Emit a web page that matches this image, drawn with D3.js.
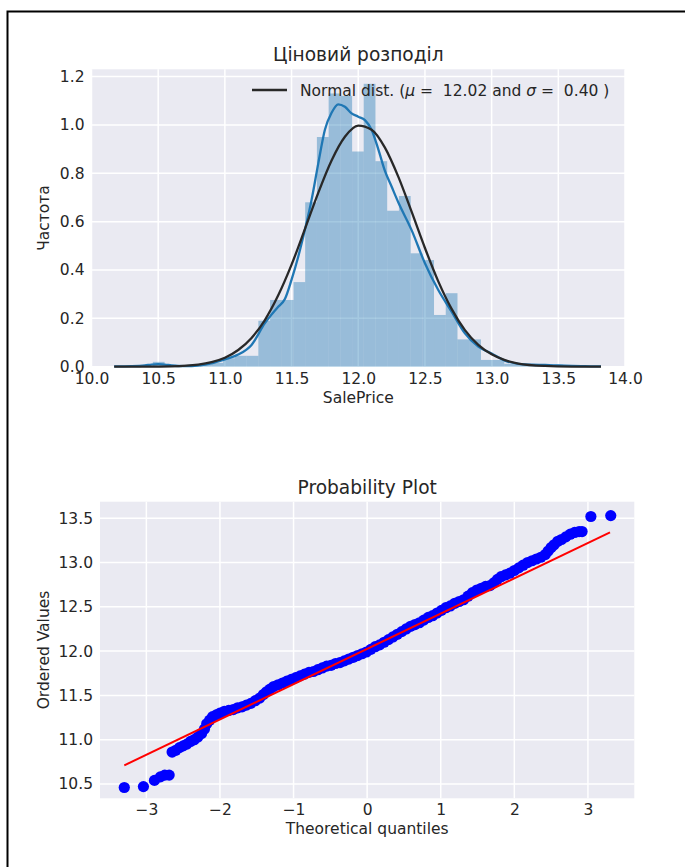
<!DOCTYPE html>
<html>
<head>
<meta charset="utf-8">
<script src="https://cdn.jsdelivr.net/npm/d3@7"></script>
<style>
  body { margin: 0; background: #fff; }
  svg text { font-family: "DejaVu Sans", sans-serif; fill: #262626; }
  .legend-text { white-space: pre; }
</style>
</head>
<body>
<svg id="chart" width="685" height="867"></svg>
<script>
// ---- data ----

// histogram of log(SalePrice): 35 bins, density per bin
const binEdges = [10.460, 10.548, 10.636, 10.724, 10.811, 10.899, 10.987, 11.075, 11.163, 11.251,
  11.339, 11.427, 11.515, 11.602, 11.690, 11.778, 11.866, 11.954, 12.041, 12.129,
  12.217, 12.305, 12.393, 12.481, 12.568, 12.656, 12.744, 12.832, 12.920, 13.007,
  13.095, 13.183, 13.271, 13.359, 13.447, 13.535];
const binDensity = [0.02, 0.008, 0, 0, 0.008, 0.016, 0.035, 0.045, 0.045, 0.19,
  0.276, 0.276, 0.35, 0.68, 0.95, 1.13, 1.12, 0.89, 1.17, 0.85,
  0.645, 0.706, 0.469, 0.441, 0.214, 0.304, 0.113, 0.113, 0.028, 0.028,
  0.012, 0.012, 0.008, 0.004, 0.008];

// kde curve (blue)
const kdeX = [10.17, 10.3, 10.4, 10.45, 10.5, 10.55, 10.6, 10.7, 10.8, 10.9, 11.0, 11.1, 11.2, 11.3,
  11.4, 11.45, 11.5, 11.55, 11.6, 11.65, 11.7, 11.75, 11.8, 11.85, 11.9, 11.95, 12.0,
  12.05, 12.1, 12.15, 12.2, 12.25, 12.3, 12.4, 12.5, 12.6, 12.7, 12.8, 12.9, 13.0,
  13.1, 13.2, 13.3, 13.4, 13.5, 13.6, 13.7, 13.82];
const kdeY = [0.001, 0.002, 0.005, 0.009, 0.011, 0.009, 0.005, 0.002, 0.005, 0.014, 0.03, 0.05, 0.09, 0.18,
  0.248, 0.28, 0.36, 0.455, 0.566, 0.69, 0.84, 0.98, 1.05, 1.085, 1.075, 1.048, 1.034,
  1.02, 0.98, 0.9, 0.81, 0.745, 0.68, 0.565, 0.428, 0.317, 0.228, 0.138, 0.083, 0.055,
  0.025, 0.012, 0.008, 0.007, 0.005, 0.003, 0.002, 0.001];

// fitted normal curve (black)
const fitX = [10.17, 10.4, 10.6, 10.8, 10.9, 11.0, 11.1, 11.2, 11.3, 11.4, 11.5, 11.6, 11.7, 11.8,
  11.9, 12.0, 12.1, 12.2, 12.3, 12.4, 12.5, 12.6, 12.7, 12.8, 12.9, 13.0, 13.1, 13.2,
  13.4, 13.6, 13.82];
const fitY = [0.0, 0.0003, 0.0017, 0.009, 0.019, 0.037, 0.069, 0.119, 0.193, 0.295, 0.422, 0.569, 0.719, 0.853,
  0.951, 0.997, 0.98, 0.906, 0.786, 0.641, 0.491, 0.353, 0.239, 0.151, 0.09, 0.051, 0.027, 0.013,
  0.003, 0.0004, 0.0];

const histXTicks = [10.0, 10.5, 11.0, 11.5, 12.0, 12.5, 13.0, 13.5, 14.0];
const histYTicks = [0.0, 0.2, 0.4, 0.6, 0.8, 1.0, 1.2];

// probability plot
const qqTheoretical = [-3.30, -3.04, -2.89, -2.81, -2.75, -2.69,
  -2.65, -2.60, -2.55, -2.50, -2.45, -2.40, -2.35, -2.30, -2.25, -2.21, -2.18, -2.14, -2.10, -2.05,
  -2.00, -1.94, -1.88, -1.82, -1.76, -1.70, -1.64, -1.58, -1.52, -1.46, -1.41, -1.37, -1.32, -1.27,
  -1.21, -1.15, -1.09, -1.03, -0.97, -0.91, -0.85, -0.79, -0.73, -0.67, -0.61, -0.55, -0.49, -0.43,
  -0.37, -0.31, -0.25, -0.19, -0.13, -0.07, -0.01, 0.05, 0.11, 0.17, 0.23, 0.29, 0.35, 0.41,
  0.47, 0.53, 0.59, 0.65, 0.71, 0.77, 0.83, 0.89, 0.95, 1.01, 1.07, 1.13, 1.19, 1.25,
  1.31, 1.37, 1.43, 1.49, 1.55, 1.61, 1.67, 1.72, 1.77, 1.82, 1.88, 1.94, 2.00, 2.06,
  2.12, 2.18, 2.24, 2.30, 2.36, 2.42, 2.46, 2.50, 2.54, 2.59, 2.64, 2.70, 2.76, 2.82,
  2.88, 2.92, 3.04, 3.31];
const qqOrdered = [10.46, 10.47, 10.54, 10.58, 10.60, 10.60,
  10.86, 10.88, 10.91, 10.93, 10.95, 10.98, 11.00, 11.03, 11.07, 11.12, 11.18, 11.22, 11.26, 11.28,
  11.30, 11.32, 11.33, 11.34, 11.36, 11.37, 11.39, 11.41, 11.44, 11.47, 11.51, 11.54, 11.57, 11.60,
  11.62, 11.64, 11.66, 11.68, 11.70, 11.72, 11.74, 11.76, 11.77, 11.79, 11.81, 11.83, 11.84, 11.86,
  11.87, 11.89, 11.91, 11.93, 11.95, 11.97, 11.99, 12.02, 12.05, 12.07, 12.10, 12.13, 12.16, 12.19,
  12.22, 12.25, 12.28, 12.30, 12.32, 12.35, 12.38, 12.40, 12.43, 12.46, 12.49, 12.51, 12.54, 12.56,
  12.58, 12.62, 12.66, 12.69, 12.71, 12.73, 12.74, 12.77, 12.81, 12.84, 12.86, 12.88, 12.91, 12.94,
  12.97, 13.00, 13.02, 13.04, 13.06, 13.09, 13.13, 13.17, 13.20, 13.24, 13.26, 13.29, 13.32, 13.34,
  13.35, 13.35, 13.52, 13.53];
// least squares line ends
const fitLineQ = [-3.30, 3.30];
const fitLineV = [10.71, 13.34];

const qqXTicks = [-3, -2, -1, 0, 1, 2, 3];
const qqYTicks = [10.5, 11.0, 11.5, 12.0, 12.5, 13.0, 13.5];

// ---- drawing ----
const svg = d3.select('#chart');
const bg = '#eaeaf2';

// frame around the picture
svg.append('path')
  .attr('d', 'M7.5,867 V11.5 H685')
  .attr('fill', 'none')
  .attr('stroke', '#000')
  .attr('stroke-width', 2);

function panel(box, xDomain, yDomain, xTicks, yTicks, xFmt, yFmt) {
  const x = d3.scaleLinear().domain(xDomain).range([box.left, box.right]);
  const y = d3.scaleLinear().domain(yDomain).range([box.bottom, box.top]);
  const g = svg.append('g');

  g.append('rect')
    .attr('x', box.left).attr('y', box.top)
    .attr('width', box.right - box.left).attr('height', box.bottom - box.top)
    .attr('fill', bg);

  // grid
  g.append('g').selectAll('line').data(xTicks).join('line')
    .attr('x1', d => x(d)).attr('x2', d => x(d))
    .attr('y1', box.top).attr('y2', box.bottom)
    .attr('stroke', '#fff').attr('stroke-width', 1.5);
  g.append('g').selectAll('line').data(yTicks).join('line')
    .attr('x1', box.left).attr('x2', box.right)
    .attr('y1', d => y(d)).attr('y2', d => y(d))
    .attr('stroke', '#fff').attr('stroke-width', 1.5);

  // axes (labels only)
  const xAxis = g.append('g')
    .attr('transform', `translate(0,${box.bottom})`)
    .call(d3.axisBottom(x).tickValues(xTicks).tickFormat(xFmt).tickSize(0).tickPadding(6));
  const yAxis = g.append('g')
    .attr('transform', `translate(${box.left},0)`)
    .call(d3.axisLeft(y).tickValues(yTicks).tickFormat(yFmt).tickSize(0).tickPadding(7));
  [xAxis, yAxis].forEach(a => {
    a.select('.domain').remove();
    a.selectAll('text').attr('font-size', 15.5).attr('fill', '#262626')
      .attr('font-family', '"DejaVu Sans", sans-serif');
  });

  const plot = g.append('g');
  return { x, y, g, plot };
}

// ---------- top: price distribution ----------
const dist = panel({ left: 91.5, right: 625, top: 69.3, bottom: 366.7 },
  [10, 14], [0, 1.23], histXTicks, histYTicks, d3.format('.1f'), d3.format('.1f'));

dist.plot.selectAll('rect').data(binDensity).join('rect')
  .attr('x', (d, i) => dist.x(binEdges[i]))
  .attr('width', (d, i) => dist.x(binEdges[i + 1]) - dist.x(binEdges[i]))
  .attr('y', d => dist.y(d))
  .attr('height', d => dist.y(0) - dist.y(d))
  .attr('fill', '#1f77b4')
  .attr('fill-opacity', 0.4);

const curveLine = d3.line()
  .x(d => dist.x(d[0])).y(d => dist.y(d[1]))
  .curve(d3.curveMonotoneX);

dist.plot.append('path')
  .attr('d', curveLine(kdeX.map((v, i) => [v, kdeY[i]])))
  .attr('fill', 'none').attr('stroke', '#1f77b4').attr('stroke-width', 2.3);

dist.plot.append('path')
  .attr('d', curveLine(fitX.map((v, i) => [v, fitY[i]])))
  .attr('fill', 'none').attr('stroke', '#282828').attr('stroke-width', 2.3);

// legend
dist.g.append('line')
  .attr('x1', 252).attr('x2', 287).attr('y1', 90).attr('y2', 90)
  .attr('stroke', '#282828').attr('stroke-width', 2.3);
const leg = dist.g.append('text')
  .attr('class', 'legend-text')
  .attr('x', 300).attr('y', 95.5).attr('font-size', 15.5);
leg.append('tspan').text('Normal dist. (');
leg.append('tspan').attr('font-style', 'italic').text('μ');
leg.append('tspan').text(' = ');
leg.append('tspan').text(' 12.02 and ');
leg.append('tspan').attr('font-style', 'italic').text('σ');
leg.append('tspan').text(' = ');
leg.append('tspan').text(' 0.40 )');

dist.g.append('text')
  .attr('x', 358.3).attr('y', 61).attr('text-anchor', 'middle')
  .attr('font-size', 18.6).text('Ціновий розподіл');
dist.g.append('text')
  .attr('x', 358.3).attr('y', 402.5).attr('text-anchor', 'middle')
  .attr('font-size', 15.5).text('SalePrice');
dist.g.append('text')
  .attr('transform', 'translate(48.5,218) rotate(-90)').attr('text-anchor', 'middle')
  .attr('font-size', 15.5).text('Частота');

// ---------- bottom: probability plot ----------
const qq = panel({ left: 100, right: 634.3, top: 501.7, bottom: 798.3 },
  [-3.63, 3.63], [10.338, 13.687], qqXTicks, qqYTicks, d3.format('d'), d3.format('.1f'));

qq.plot.selectAll('circle').data(qqOrdered).join('circle')
  .attr('cx', (d, i) => qq.x(qqTheoretical[i]))
  .attr('cy', d => qq.y(d))
  .attr('r', 5.6)
  .attr('fill', '#0000ff');

qq.plot.append('line')
  .attr('x1', qq.x(fitLineQ[0])).attr('y1', qq.y(fitLineV[0]))
  .attr('x2', qq.x(fitLineQ[1])).attr('y2', qq.y(fitLineV[1]))
  .attr('stroke', '#ff0000').attr('stroke-width', 2);

qq.g.append('text')
  .attr('x', 367.2).attr('y', 494).attr('text-anchor', 'middle')
  .attr('font-size', 18.6).text('Probability Plot');
qq.g.append('text')
  .attr('x', 367.2).attr('y', 834).attr('text-anchor', 'middle')
  .attr('font-size', 15.5).text('Theoretical quantiles');
qq.g.append('text')
  .attr('transform', 'translate(48.5,650) rotate(-90)').attr('text-anchor', 'middle')
  .attr('font-size', 15.5).text('Ordered Values');
</script>
</body>
</html>
